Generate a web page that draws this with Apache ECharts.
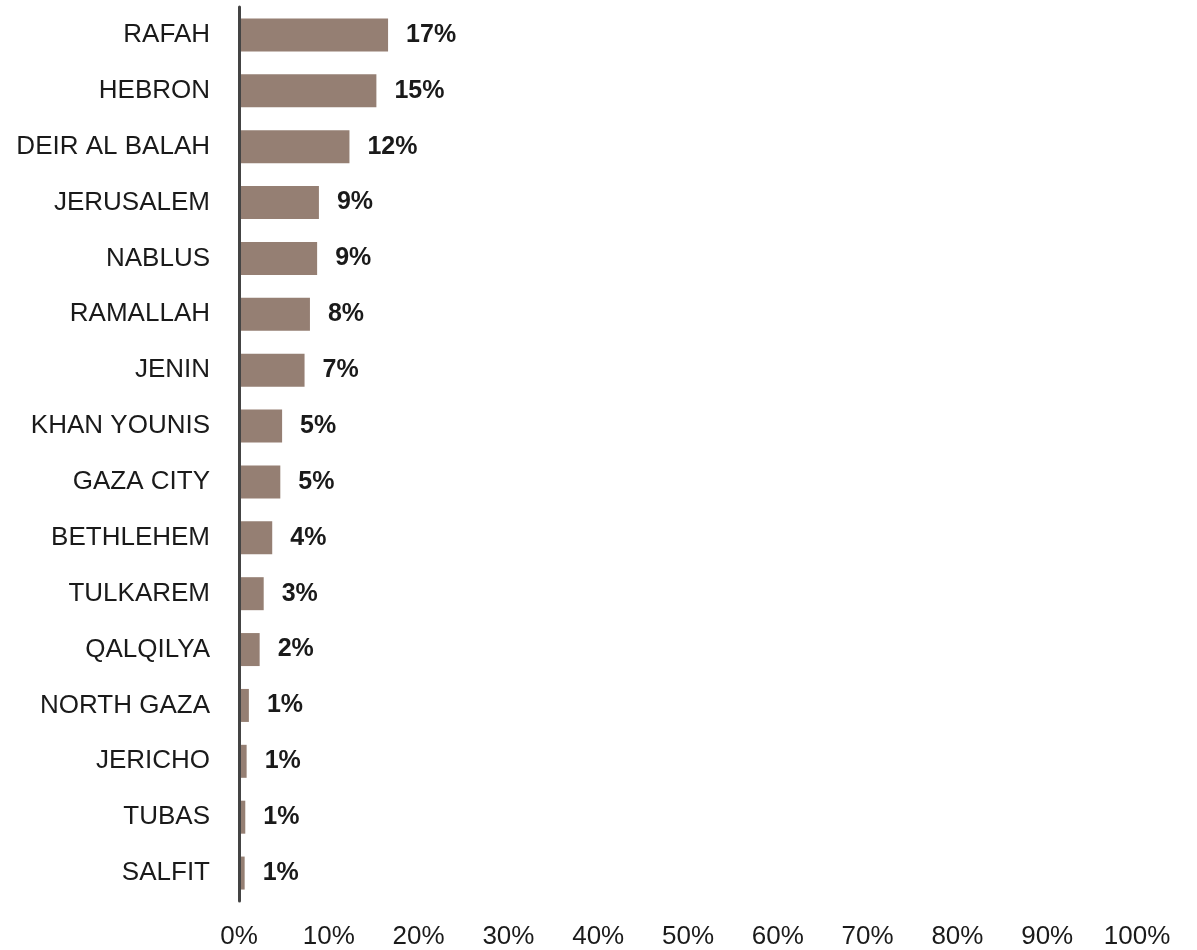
<!DOCTYPE html>
<html>
<head>
<meta charset="utf-8">
<script src="https://cdn.jsdelivr.net/npm/echarts@6/dist/echarts.min.js"></script>
<style>
  html, body { margin: 0; padding: 0; background: #fff; }
  #chart { width: 1197px; height: 950px; }
</style>
</head>
<body>
<div id="chart"></div>
<script>
// top to bottom, as in the picture
const cities = [
  "RAFAH", "HEBRON", "DEIR AL BALAH", "JERUSALEM", "NABLUS", "RAMALLAH",
  "JENIN", "KHAN YOUNIS", "GAZA CITY", "BETHLEHEM", "TULKAREM", "QALQILYA",
  "NORTH GAZA", "JERICHO", "TUBAS", "SALFIT",
];
const shares = [16.6, 15.3, 12.3, 8.9, 8.7, 7.9, 7.3, 4.8, 4.6, 3.7, 2.75, 2.3, 1.1, 0.85, 0.7, 0.63];
const shareLabels = ["17%", "15%", "12%", "9%", "9%", "8%", "7%", "5%", "5%", "4%", "3%", "2%", "1%", "1%", "1%", "1%"];
const xTicks = [0, 10, 20, 30, 40, 50, 60, 70, 80, 90, 100];

const font = "'Liberation Sans', Arial, sans-serif";
let myChart = echarts.init(document.getElementById("chart"));

let option = {
  animation: false,
  grid: {
    left: 239,
    right: 60,
    top: 7,
    bottom: 49,
  },
  xAxis: {
    type: "value",
    min: xTicks[0],
    max: xTicks[xTicks.length - 1],
    interval: 10,
    axisLine: { show: false },
    axisTick: { show: false },
    splitLine: { show: false },
    axisLabel: {
      margin: 23,
      fontFamily: font,
      fontSize: 26,
      color: "#1a1a1a",
      formatter: (v) => v + "%",
    },
  },
  yAxis: {
    type: "category",
    inverse: true,
    data: cities,
    axisLine: { show: true, lineStyle: { color: "#444", width: 3 } },
    axisTick: { show: false },
    axisLabel: {
      margin: 29,
      fontFamily: font,
      fontSize: 26,
      color: "#1a1a1a",
    },
    z: 10,
  },
  series: [
    {
      type: "bar",
      data: shares,
      barWidth: 33,
      itemStyle: { color: "#957f73" },
      label: {
        show: true,
        position: "right",
        distance: 18,
        fontFamily: font,
        fontSize: 25,
        fontWeight: "bold",
        color: "#1a1a1a",
        formatter: (p) => shareLabels[p.dataIndex],
      },
    },
  ],
};
myChart.setOption(option);
</script>
</body>
</html>
